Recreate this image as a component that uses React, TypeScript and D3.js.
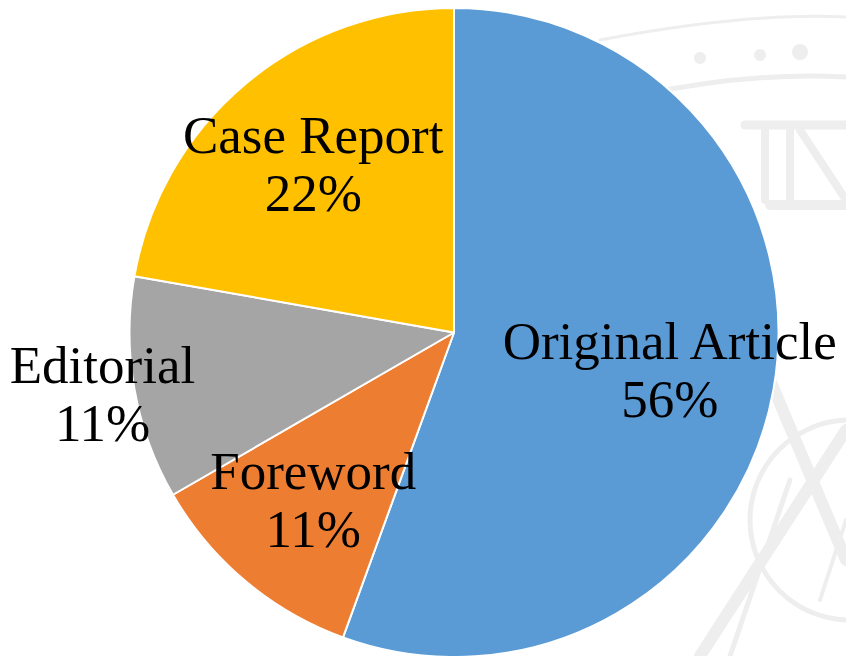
import * as d3 from 'd3'
import React from 'react'

// article types and counts (Excel pie, best-fit labels)
const categories = ['Original Article', 'Foreword', 'Editorial', 'Case Report']
const counts = [5, 1, 1, 2]
const colors = ['#5B9BD5', '#ED7D31', '#A5A5A5', '#FFC000']
const outsideLabels = ['Editorial']

const W = 846
const H = 656

type Slice = { name: string; value: number; color: string }

function Watermark() {
  // faint seal behind the chart, right hand side
  const c = '#eeeeee'
  return (
    <g fill="none" stroke={c} strokeWidth={5} strokeLinecap="round">
      <path d="M 600 40 Q 760 10 860 18" strokeWidth={3} />
      <path d="M 640 95 Q 760 70 860 78" />
      <circle cx={700} cy={58} r={6} fill={c} stroke="none" />
      <circle cx={760} cy={55} r={6} fill={c} stroke="none" />
      <circle cx={800} cy={52} r={8} fill={c} stroke="none" />
      <path d="M 745 125 L 845 125" strokeWidth={9} />
      <path d="M 765 130 L 765 200 M 790 130 L 790 200 M 800 130 L 846 200" strokeWidth={8} />
      <path d="M 770 205 L 846 205" strokeWidth={10} />
      <circle cx={850} cy={520} r={100} strokeWidth={5} />
      <path d="M 770 380 L 846 560" strokeWidth={12} />
      <path d="M 846 430 L 700 656" strokeWidth={12} />
      <path d="M 790 480 L 730 656" strokeWidth={5} />
      <path d="M 820 600 L 846 520" strokeWidth={4} />
    </g>
  )
}

export default function App() {
  const data: Slice[] = categories.map((name, i) => ({ name, value: counts[i], color: colors[i] }))
  const total = d3.sum(counts)

  const cx = 454
  const cy = 332.5
  const radius = 324.5

  const pie = d3
    .pie<Slice>()
    .sort(null)
    .value(d => d.value)
  const arcs = pie(data)

  const arc = d3.arc<d3.PieArcDatum<Slice>>().innerRadius(0).outerRadius(radius)
  const inLabel = d3
    .arc<d3.PieArcDatum<Slice>>()
    .innerRadius(radius * 0.675)
    .outerRadius(radius * 0.675)
  const outLabel = d3
    .arc<d3.PieArcDatum<Slice>>()
    .innerRadius(radius * 1.1)
    .outerRadius(radius * 1.1)

  const fontSize = 53
  const lineGap = 58

  return (
    <div style={{ position: 'fixed', left: 0, top: 0 }}>
      <svg width={W} height={H} viewBox={`0 0 ${W} ${H}`} style={{ display: 'block', background: '#fff' }}>
        <Watermark />
        <g transform={`translate(${cx},${cy})`}>
          {arcs.map(a => (
            <path key={a.data.name} d={arc(a) || ''} fill={a.data.color} stroke="#fff" strokeWidth={2} strokeLinejoin="round" />
          ))}
          {arcs.map(a => {
            const [x, y] = (outsideLabels.includes(a.data.name) ? outLabel : inLabel).centroid(a)
            const pct = Math.round((a.data.value / total) * 100)
            const b1 = y - 11.5
            return (
              <text
                key={a.data.name}
                textAnchor="middle"
                fontFamily="'Liberation Serif', 'Times New Roman', serif"
                fontSize={fontSize}
                fill="#000"
              >
                <tspan x={x} y={b1}>{a.data.name}</tspan>
                <tspan x={x} y={b1 + lineGap}>{pct}%</tspan>
              </text>
            )
          })}
        </g>
      </svg>
    </div>
  )
}
